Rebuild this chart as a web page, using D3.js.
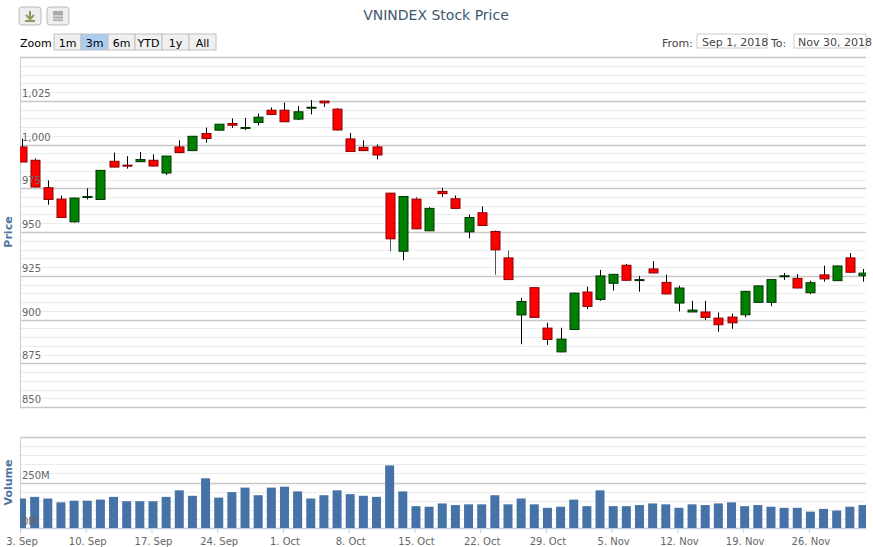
<!DOCTYPE html>
<html>
<head>
<meta charset="utf-8">
<script src="https://cdn.jsdelivr.net/npm/d3@7"></script>
<style>
  body { margin: 0; background: #fff; font-family: "Lucida Grande", "DejaVu Sans", Verdana, sans-serif; }
  svg text { font-family: "DejaVu Sans", Verdana, sans-serif; }
</style>
</head>
<body>
<div id="chart"></div>
<script>
// trading days, Sep 3 - Nov 30 2018
let dates = [
  "2018-09-03","2018-09-04","2018-09-05","2018-09-06","2018-09-07",
  "2018-09-10","2018-09-11","2018-09-12","2018-09-13","2018-09-14",
  "2018-09-17","2018-09-18","2018-09-19","2018-09-20","2018-09-21",
  "2018-09-24","2018-09-25","2018-09-26","2018-09-27","2018-09-28",
  "2018-10-01","2018-10-02","2018-10-03","2018-10-04","2018-10-05",
  "2018-10-08","2018-10-09","2018-10-10","2018-10-11","2018-10-12",
  "2018-10-15","2018-10-16","2018-10-17","2018-10-18","2018-10-19",
  "2018-10-22","2018-10-23","2018-10-24","2018-10-25","2018-10-26",
  "2018-10-29","2018-10-30","2018-10-31","2018-11-01","2018-11-02",
  "2018-11-05","2018-11-06","2018-11-07","2018-11-08","2018-11-09",
  "2018-11-12","2018-11-13","2018-11-14","2018-11-15","2018-11-16",
  "2018-11-19","2018-11-20","2018-11-21","2018-11-22","2018-11-23",
  "2018-11-26","2018-11-27","2018-11-28","2018-11-29","2018-11-30"
];
let open  = [998.6,991,975.3,968.8,955.8,969.9,968.6,990.4,988.2,990.2,991,983.7,998.6,996.5,1006.3,1008.2,1012,1009.3,1012.6,1019.6,
             1019.6,1014.5,1021,1024.8,1020.2,1003.2,998.4,998.6,972.2,939,968.8,950.7,973.2,969,950.1,961,950.3,935.2,902.6,918.2,
             895.1,881.5,894.3,915.7,911.5,920.7,931,922.5,928.9,921.2,909.4,904.3,904.3,900.8,901.4,902.7,909.8,909.8,924.8,923.5,
             915.3,925.5,922.2,935.2,925];
let high  = [1003.4,992.3,979.5,970.9,969.6,975,985.3,995.4,993.3,995.7,994.4,993.5,1002.4,1004.8,1009.7,1011.7,1014.9,1015.2,1017.7,1021.2,
             1024,1022,1025.4,1025,1020.8,1006.6,1002.4,1000,972.4,970.4,970,964.2,975.3,970.9,959.9,964.6,950.9,939.4,912.3,918.4,
             898.1,895.3,915.3,918.8,928.3,926,931.8,924.9,933.3,925.6,919.3,910.7,910.7,904,903.3,916.3,919.4,923,926.6,926,
             922.2,930.8,930.8,937.9,928.9];
let low   = [990,975.5,965.6,958,955.5,968.6,968.4,987,986.2,990,987.5,982.6,995,996.3,1001,1008,1009.5,1008.2,1010.9,1016.8,
             1012.8,1013.9,1017.2,1021.5,1008,995.8,996.3,991.5,939,933.8,951.6,950.5,970,963.3,946.4,953.5,925.6,922.6,885.9,901,
             885.5,881.3,894,906,910.7,916.5,922.2,915.9,926.4,914.4,904.6,904.2,899.7,893,894.7,901.2,909.6,907.7,922.6,917.8,
             914.5,921.6,922,926.8,921.6];
let close = [990,975.7,968.6,958.3,969.4,970.3,985.2,987.1,987.8,991.4,987.7,993.4,995.4,1004.7,1003.4,1011.6,1011,1009.7,1015.6,1017.2,
             1013,1018.7,1021.3,1023.8,1008.3,996,996.5,994,946.1,970.3,951.8,963.5,971.9,963.5,958.3,953.7,939.8,922.8,910.3,901.2,
             888.6,888.8,915.1,907.5,924.9,925.8,922.4,922.8,926.6,914.6,918,905.4,901.2,897,898.1,916.1,919.2,922.8,925,918,
             921,923.2,930.6,927,926.5];
// volume in millions of shares
let volume = [162,171,162,141,150,150,156,171,147,147,147,171,207,177,273,167,197,222,180,222,
              227,201,162,180,207,186,177,171,344,201,120,117,135,126,130,130,180,130,162,130,
              111,117,156,120,207,120,120,126,135,130,111,130,126,135,141,120,126,117,111,111,
              90,105,96,117,126];
let tickIdx = [0,5,10,15,20,25,30,35,40,45,50,55,60];
let tickLabels = ["3. Sep","10. Sep","17. Sep","24. Sep","1. Oct","8. Oct","15. Oct","22. Oct","29. Oct","5. Nov","12. Nov","19. Nov","26. Nov"];
let priceTicks = [850,875,900,925,950,975,1000,1025];
let zoomButtons = ["1m","3m","6m","YTD","1y","All"];

let svgWidth = 873, svgHeight = 547;
let plotLeft = 20, plotRight = 866;
let priceTop = 57, priceBottom = 407;
let volTop = 437, volBottom = 528;

let svg = d3.select("#chart").append("svg")
  .attr("width", svgWidth).attr("height", svgHeight);

let x = d3.scaleLinear().domain([0, dates.length - 1]).range([21.5, 863]);
let yPrice = d3.scaleLinear().domain([850, 1050]).range([priceBottom, priceTop]);
let yVol = d3.scaleLinear().domain([0, 500]).range([volBottom, volTop]);

// clip so the half candles on the edges get cut
svg.append("clipPath").attr("id", "clip").append("rect")
  .attr("x", plotLeft).attr("y", 0).attr("width", plotRight - plotLeft).attr("height", svgHeight);

// export buttons
[[19, "#8a9a5b"], [47, "#888"]].forEach(function(b, i) {
  let g = svg.append("g").attr("transform", `translate(${b[0]}, 7)`);
  g.append("rect").attr("width", 22).attr("height", 18).attr("rx", 3)
    .attr("fill", "#eee").attr("stroke", "#bbb");
  if (i === 0) {
    g.append("path").attr("d", "M11,4 V12 M7,8 L11,12 L15,8 M6,14 H16").attr("stroke", b[1]).attr("stroke-width", 2).attr("fill", "none");
  } else {
    g.append("rect").attr("x", 6).attr("y", 4).attr("width", 10).attr("height", 10).attr("fill", "#aaa");
    g.append("path").attr("d", "M5,9 H17 M5,12 H17").attr("stroke", "#eee").attr("stroke-width", 1);
  }
});

// title
svg.append("text").attr("x", 436).attr("y", 20).attr("text-anchor", "middle")
  .attr("font-size", 14).attr("fill", "#3E576F").text("VNINDEX Stock Price");

// range selector
svg.append("text").attr("x", 20).attr("y", 47).attr("font-size", 11).attr("fill", "#000").text("Zoom");
let bx = 54;
zoomButtons.forEach(function(lbl, i) {
  svg.append("rect").attr("x", bx + i * 27).attr("y", 34).attr("width", 27).attr("height", 16)
    .attr("fill", i === 1 ? "#acccf0" : "#f0f0f0").attr("stroke", "#c0c0c0");
  svg.append("text").attr("x", bx + i * 27 + 13.5).attr("y", 47).attr("text-anchor", "middle")
    .attr("font-size", 11).attr("fill", "#000").text(lbl);
});
svg.append("text").attr("x", 662).attr("y", 47).attr("font-size", 11).attr("fill", "#444").text("From:");
svg.append("rect").attr("x", 697).attr("y", 34).attr("width", 70).attr("height", 14).attr("fill", "#fff").attr("stroke", "#ccc");
svg.append("text").attr("x", 702).attr("y", 46).attr("font-size", 11).attr("fill", "#444").text("Sep 1, 2018");
svg.append("text").attr("x", 771).attr("y", 47).attr("font-size", 11).attr("fill", "#444").text("To:");
svg.append("rect").attr("x", 794).attr("y", 34).attr("width", 72).attr("height", 14).attr("fill", "#fff").attr("stroke", "#ccc");
svg.append("text").attr("x", 798).attr("y", 46).attr("font-size", 11).attr("fill", "#444").text("Nov 30, 2018");

// price gridlines (minor every 5, major every 25)
let grid = svg.append("g");
d3.range(850, 1051, 5).forEach(function(v) {
  grid.append("line").attr("x1", plotLeft).attr("x2", plotRight)
    .attr("y1", Math.round(yPrice(v)) + 0.5).attr("y2", Math.round(yPrice(v)) + 0.5)
    .attr("stroke", v % 25 === 0 ? "#c8c8c8" : "#ececec").attr("stroke-width", v % 25 === 0 ? 1.5 : 1);
});
d3.range(0, 501, 50).forEach(function(v) {
  grid.append("line").attr("x1", plotLeft).attr("x2", plotRight)
    .attr("y1", Math.round(yVol(v)) + 0.5).attr("y2", Math.round(yVol(v)) + 0.5)
    .attr("stroke", v % 250 === 0 ? "#c8c8c8" : "#ececec").attr("stroke-width", v % 250 === 0 ? 1.5 : 1);
});
// left axis lines
svg.append("line").attr("x1", plotLeft + 0.5).attr("x2", plotLeft + 0.5).attr("y1", priceTop).attr("y2", priceBottom).attr("stroke", "#C0D0E0");
svg.append("line").attr("x1", plotLeft + 0.5).attr("x2", plotLeft + 0.5).attr("y1", volTop).attr("y2", volBottom).attr("stroke", "#C0D0E0");

// volume bars
svg.append("g").attr("clip-path", "url(#clip)").selectAll("rect").data(volume).enter().append("rect")
  .attr("x", (d, i) => x(i) - 4.5)
  .attr("y", d => yVol(d))
  .attr("width", 9)
  .attr("height", d => yVol(0) - yVol(d))
  .attr("fill", "#4572A7");

// candles
let candles = svg.append("g").attr("clip-path", "url(#clip)").selectAll("g")
  .data(dates).enter().append("g");
candles.append("line")
  .attr("x1", (d, i) => Math.round(x(i)) + 0.5).attr("x2", (d, i) => Math.round(x(i)) + 0.5)
  .attr("y1", (d, i) => yPrice(high[i])).attr("y2", (d, i) => yPrice(low[i]))
  .attr("stroke", (d, i) => close[i] < open[i] && high[i] - low[i] > 15 ? "#555" : "#000").attr("stroke-width", 1);
candles.append("rect")
  .attr("x", (d, i) => Math.round(x(i)) - 4)
  .attr("y", (d, i) => yPrice(Math.max(open[i], close[i])))
  .attr("width", 9)
  .attr("height", (d, i) => Math.max(1, Math.abs(yPrice(open[i]) - yPrice(close[i]))))
  .attr("fill", (d, i) => close[i] < open[i] ? "#ff0000" : "#008000")
  .attr("stroke", (d, i) => close[i] < open[i] ? "#8b0000" : "#003300")
  .attr("stroke-width", 1);

// price labels inside plot
svg.append("g").selectAll("text").data(priceTicks).enter().append("text")
  .attr("x", 22).attr("y", d => yPrice(d) - 4)
  .attr("font-size", 10).attr("fill", "#666")
  .text(d => d3.format(",")(d));
svg.append("text").attr("x", 22).attr("y", yVol(250) - 4).attr("font-size", 10).attr("fill", "#666").text("250M");
svg.append("text").attr("x", 22).attr("y", yVol(0) - 3).attr("font-size", 10).attr("fill", "#666").text("0M");

// axis titles
svg.append("text").attr("transform", `translate(12, ${(priceTop + priceBottom) / 2}) rotate(-90)`)
  .attr("text-anchor", "middle").attr("font-size", 11).attr("font-weight", "bold").attr("fill", "#4d759e").text("Price");
svg.append("text").attr("transform", `translate(12, ${(volTop + volBottom) / 2}) rotate(-90)`)
  .attr("text-anchor", "middle").attr("font-size", 11).attr("font-weight", "bold").attr("fill", "#4d759e").text("Volume");

// x axis
let xAxis = d3.axisBottom(x).tickValues(tickIdx).tickFormat((d, i) => tickLabels[i]).tickSize(5).tickSizeOuter(0);
let xg = svg.append("g").attr("transform", `translate(0, ${volBottom})`).call(xAxis);
xg.select(".domain").attr("stroke", "#C0D0E0").attr("d", `M${plotLeft},0.5H${plotRight}`);
xg.selectAll(".tick line").attr("stroke", "#C0D0E0").attr("transform", "translate(-1.5,0)");
xg.selectAll(".tick text").attr("fill", "#666").attr("font-size", 10).attr("dy", "0.9em");
</script>
</body>
</html>
